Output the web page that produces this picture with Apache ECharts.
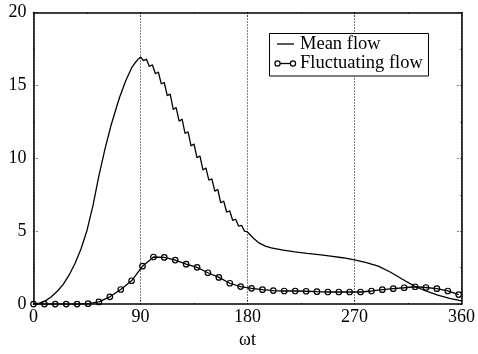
<!DOCTYPE html>
<html>
<head>
<meta charset="utf-8">
<script src="https://cdn.jsdelivr.net/npm/echarts@6/dist/echarts.min.js"></script>
<style>html,body{margin:0;padding:0;background:#fff}#c{width:478px;height:354px}</style>
</head>
<body>
<div id="c"></div>
<script>
const xTicks = [0, 90, 180, 270, 360];
const yTicks = [0, 5, 10, 15, 20];
const seriesNames = ['Mean flow', 'Fluctuating flow'];

const meanAngles = [0,5,10,15,20,25,30,35,40,45,50,55,60,65,70,72.5,75,77.5,80,82.5,85,87.5,89,90,
  92.5,95,97.5,100,102.5,105,107.5,110,112.5,115,117.5,120,122.5,125,127.5,130,132.5,135,137.5,140,
  142.5,145,147.5,150,152.5,155,157.5,160,162.5,165,167.5,170,172.5,175,177.5,180,181,
  185,190,195,200,210,220,230,240,250,260,270,280,290,300,310,320,330,340,350,360];
const meanValues = [0,0.06,0.22,0.5,0.88,1.35,2.0,2.8,3.8,5.05,6.75,8.8,10.6,12.2,13.55,14.2,14.75,15.3,15.75,16.2,16.5,16.75,16.8,16.95,
  16.7,16.8,16.3,16.42,15.8,15.92,15.1,15.2,14.3,14.4,13.35,13.48,12.55,12.68,11.7,11.82,10.85,10.98,10.05,10.16,
  9.2,9.34,8.5,8.6,7.75,7.86,6.95,7.06,6.3,6.4,5.75,5.82,5.35,5.4,5.0,4.95,5.0,
  4.52,4.18,3.98,3.86,3.7,3.58,3.48,3.39,3.29,3.18,3.03,2.85,2.6,2.2,1.72,1.25,0.9,0.62,0.4,0.22];

const fluctAngles = [0,9.2,18.3,27.5,36.7,45.9,55.0,64.2,73.4,82.5,91.7,100.9,110.0,119.2,128.4,137.6,146.7,155.9,165.1,174.2,
  183.4,192.6,201.7,210.9,220.1,229.3,238.4,247.6,256.8,265.9,275.1,284.3,293.4,302.6,311.8,321.0,330.1,339.3,348.5,357.6];
const fluctValues = [0,0,0,0,0,0.03,0.15,0.5,1.0,1.6,2.6,3.23,3.2,3.02,2.74,2.52,2.15,1.83,1.43,1.2,
  1.08,0.99,0.93,0.9,0.9,0.88,0.85,0.83,0.83,0.83,0.83,0.9,0.99,1.06,1.12,1.19,1.14,1.06,0.9,0.65];

const FONT = 'Liberation Serif';
const chart = echarts.init(document.getElementById('c'), null, {renderer: 'canvas'});

const dotted = {color: '#000', width: 1, type: [1, 2]};
const axisCommon = {
  type: 'value',
  axisLine: {show: true, onZero: false, lineStyle: {color: '#000', width: 1.5}},
  axisTick: {show: true, inside: true, length: 5, lineStyle: dotted},
  minorTick: {show: true, splitNumber: 2, length: 3, lineStyle: dotted},
  splitLine: {show: false}
};

// legend box drawn as graphic
const LX = 269.5, LY = 33.5, LW = 159, LH = 42.5;
const legendGraphic = [
  {type: 'rect', shape: {x: LX, y: LY, width: LW, height: LH}, style: {fill: '#fff', stroke: '#000', lineWidth: 1}, z: 100},
  {type: 'line', shape: {x1: 277, y1: 44, x2: 294, y2: 44}, style: {stroke: '#000', lineWidth: 1.3}, z: 101},
  {type: 'text', x: 300, y: 44, style: {text: seriesNames[0], fontFamily: FONT, fontSize: 18.5, fill: '#000', verticalAlign: 'middle', align: 'left'}, z: 101},
  {type: 'line', shape: {x1: 277.5, y1: 63.5, x2: 293, y2: 63.5}, style: {stroke: '#000', lineWidth: 1.3}, z: 101},
  {type: 'circle', shape: {cx: 277.5, cy: 63.5, r: 2.6}, style: {fill: '#fff', stroke: '#000', lineWidth: 1.2}, z: 102},
  {type: 'circle', shape: {cx: 293, cy: 63.5, r: 2.6}, style: {fill: '#fff', stroke: '#000', lineWidth: 1.2}, z: 102},
  {type: 'text', x: 300, y: 63.5, style: {text: seriesNames[1], fontFamily: FONT, fontSize: 18.5, fill: '#000', verticalAlign: 'middle', align: 'left'}, z: 101}
];

chart.setOption({
  animation: false,
  backgroundColor: '#fff',
  grid: {left: 33.5, right: 14.5, top: 12.5, bottom: 41.5, containLabel: false},
  graphic: legendGraphic,
  xAxis: [
    Object.assign({}, axisCommon, {
      position: 'bottom', min: xTicks[0], max: xTicks[xTicks.length - 1], interval: 90,
      splitLine: {show: true, lineStyle: dotted},
      axisLabel: {show: true, fontFamily: FONT, fontSize: 18, color: '#000', margin: 4},
      name: 'ωt', nameLocation: 'middle', nameGap: 19,
      nameTextStyle: {fontFamily: FONT, fontSize: 18, color: '#000'}
    }),
    Object.assign({}, axisCommon, {
      position: 'top', min: xTicks[0], max: xTicks[xTicks.length - 1], interval: 90,
      axisLabel: {show: false}
    })
  ],
  yAxis: [
    Object.assign({}, axisCommon, {
      position: 'left', min: yTicks[0], max: yTicks[yTicks.length - 1], interval: 5,
      axisLabel: {show: true, fontFamily: FONT, fontSize: 18, color: '#000', margin: 7}
    }),
    Object.assign({}, axisCommon, {
      position: 'right', min: yTicks[0], max: yTicks[yTicks.length - 1], interval: 5,
      axisLabel: {show: false}
    })
  ],
  series: [
    {
      name: seriesNames[0], type: 'line', xAxisIndex: 0, yAxisIndex: 0,
      showSymbol: false, symbol: 'none',
      lineStyle: {color: '#000', width: 1.3},
      itemStyle: {color: '#000'},
      data: meanAngles.map((a, i) => [a, meanValues[i]])
    },
    {
      name: seriesNames[1], type: 'line', xAxisIndex: 0, yAxisIndex: 0,
      symbol: 'circle', symbolSize: 5.5, showSymbol: true,
      lineStyle: {color: '#000', width: 1.3},
      itemStyle: {color: 'rgba(0,0,0,0)', borderColor: '#000', borderWidth: 1.2},
      data: fluctAngles.map((a, i) => [a, fluctValues[i]])
    }
  ]
});
</script>
</body>
</html>
